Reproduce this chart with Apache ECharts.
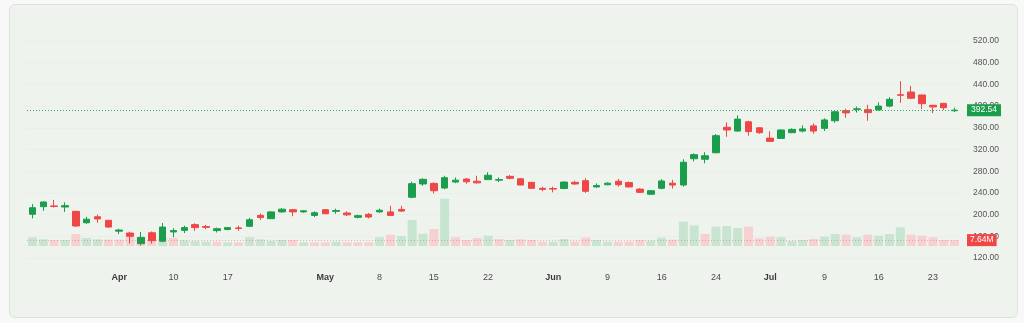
<!DOCTYPE html>
<html>
<head>
<meta charset="utf-8">
<script src="https://cdn.jsdelivr.net/npm/echarts@6/dist/echarts.min.js"></script>
<style>
html,body{margin:0;padding:0;background:#f7f8f7;width:1024px;height:323px;overflow:hidden}
#card{position:absolute;left:9px;top:4px;width:1007px;height:312px;border:1px solid #dde2dc;border-radius:6px;background:#eff3ee}
#chart{position:absolute;left:0;top:0;width:1024px;height:323px}
</style>
</head>
<body>
<div id="card"></div>
<div id="chart"></div>
<script>
// OHLC per session: [open, close, low, high]
const ohlc = [
  [200.6,212.7,193,219.5],[214.6,223.2,207,224],[216,215,213,227],[214,216.5,205,222.7],
  [206,179,177,207],[185,191.5,183,196],[196,192,185,200],[189.5,177,176,190],
  [169.5,171.5,164,174],[166,160,147,168.5],[146.5,158,143,168],[166.5,152,146.5,169],
  [151,177,149,184.5],[168,170.5,158,175],[171,176,166,179.5],[181.5,176,170,184],
  [178,176.5,173,181],[170.5,174,167,176],[172.5,176,171,177],[175.5,174.5,170,179.5],
  [178.5,190.5,177,194],[198.5,194.5,190,202],[192.5,205,192,206],[205,210,203.5,212],
  [209,205,197,210.5],[205,207,203.5,208],[198.5,203.5,195.5,206],[209,201.6,201,210],
  [206,207.5,201.5,211],[203,199.5,197.5,206],[195,198,193,200],[200.5,195.5,193,203],
  [205,208,203.5,211],[205,198.5,198,216],[209.5,206.5,205,216],[232,257,230,260.5],
  [256.5,265,253,267],[257.5,244,239,259.5],[249,268,247,271.5],[260,263.5,258,268.5],
  [265.5,260.5,257,267.5],[261.5,258.5,257.5,271.5],[264.5,272.5,264,278],[263.5,264.5,260,268.5],
  [270.5,267,265,273],[266,254.5,254,267],[259.5,248.5,247.5,260],[248.5,246.5,243,251.5],
  [248,247,241,251.5],[248,260,247,261],[259.5,256.5,254.5,262.5],[262.5,243,240,267],
  [251,253.5,249.5,257.5],[255,258,254,259.5],[261.5,255,251.5,265.5],[259,251,250,261],
  [247,241,240,248.5],[237.5,244,236,245],[248.5,262,246.5,265.5],[258,254.5,248,264],
  [254.5,296.5,251.5,302],[303,310.5,298,313],[302,308.5,294.5,315],[314,345.5,313,348.5],
  [361,356,343.5,370],[354,376,353,383],[371,353,345.5,373],[360,351,349,361],
  [341,335,335,353.5],[340.5,356,339.5,357],[351,357,350,359],[354,358,351.5,364.5],
  [363.5,354,349,368],[359,374.5,354,377.5],[373,389.5,369.5,391.5],[391.5,387.5,378.5,395],
  [394,395,388,399],[393.5,388,373,402.5],[393,400,391.5,407],[400,412.5,398,416.5],
  [421,420,406,446],[426,414.5,413,437],[420.5,404.5,394.5,421],[401.5,398.5,387,402],
  [405,397,393,406],[391.5,392.54,389,397]
];
// volume in millions
const volume = [
  11.3,8.7,7.8,7.8,15.6,10.4,8.7,8.2,8.2,12.1,11.3,9.1,10.4,10.4,7.4,6.5,5.6,5.6,4.8,4.8,
  11.3,8.7,6.5,7.8,7.8,4.8,4.8,4.8,5.6,4.8,4.8,4.8,11.3,14.7,13,33.8,16,22.1,61.5,11.3,
  7.8,10.4,13.4,9.1,7.8,8.7,7.8,5.6,5.6,9.1,5.6,10.8,7.8,5.6,5.6,5.6,7.8,6.9,10.8,8.2,
  31.6,26.9,15.6,25.1,26,23.4,25.1,10,12.1,11.3,6.5,7.8,9.1,12.1,15.6,14.7,11.3,14.7,13.4,15.6,
  24.3,14.7,13.4,11.3,7.8,7.64
];
const tickLabels = {8:'Apr',13:'10',18:'17',27:'May',32:'8',37:'15',42:'22',48:'Jun',53:'9',58:'16',63:'24',68:'Jul',73:'9',78:'16',83:'23'};
const monthLabels = ['Apr','May','Jun','Jul'];
const lastPrice = 392.54;
const lastVolume = 7.64;

const UP = '#1b9e4b', DOWN = '#ef4646';
const VUP = '#c7e5d0', VDOWN = '#f5d1d1';
const categories = ohlc.map((d, i) => String(i));
const volData = volume.map((v, i) => {
  const up = i === 0 ? ohlc[i][1] >= ohlc[i][0] : ohlc[i][1] >= ohlc[i - 1][1];
  return { value: v, itemStyle: { color: up ? VUP : VDOWN } };
});

const chart = echarts.init(document.getElementById('chart'), null, { renderer: 'canvas' });
chart.setOption({
  animation: false,
  backgroundColor: 'transparent',
  textStyle: { fontFamily: 'Liberation Sans, Arial, sans-serif' },
  grid: { left: 27, right: 64, top: 41, bottom: 65 },
  xAxis: {
    type: 'category',
    data: categories,
    boundaryGap: true,
    axisLine: { show: false },
    axisTick: { show: false },
    splitLine: { show: false },
    axisLabel: {
      margin: 15,
      fontSize: 9,
      color: '#4a4a4a',
      interval: (idx) => tickLabels[idx] !== undefined,
      formatter: (val, idx) => {
        const t = tickLabels[idx];
        if (t === undefined) return '';
        return monthLabels.includes(t) ? '{m|' + t + '}' : t;
      },
      rich: { m: { fontWeight: 'bold', fontSize: 9, color: '#3a3a3a' } }
    }
  },
  yAxis: [
    {
      type: 'value', position: 'right', min: 120, max: 520, interval: 40, scale: false,
      axisLine: { show: false }, axisTick: { show: false },
      splitLine: { show: true, lineStyle: { color: '#eaeee9', width: 1 } },
      axisLabel: { margin: 13, fontSize: 8.5, color: '#555', formatter: v => v.toFixed(2) }
    },
    {
      type: 'value', min: -15.6, max: 266.6, show: false,
      splitLine: { show: false }
    }
  ],
  series: [
    {
      type: 'bar',
      yAxisIndex: 1,
      data: volData,
      barWidth: 9,
      z: 1,
      markLine: {
        silent: true, symbol: 'none',
        lineStyle: { type: [1, 2], color: 'rgba(239,70,70,0.4)', width: 1 },
        label: {
          show: true, position: 'end', distance: 7,
          formatter: lastVolume.toFixed(2) + 'M',
          backgroundColor: DOWN, color: '#fff', fontSize: 8.5, padding: [2, 3, 1, 3]
        },
        data: [{ yAxis: lastVolume }]
      }
    },
    {
      type: 'candlestick',
      data: ohlc.map(d => [d[0], d[1], d[2], d[3]]),
      barWidth: 7,
      z: 3,
      itemStyle: { color: UP, color0: DOWN, borderColor: UP, borderColor0: DOWN, borderWidth: 1 },
      markLine: {
        silent: true, symbol: 'none',
        lineStyle: { type: [1, 2], color: '#2fa85a', width: 1 },
        label: {
          show: true, position: 'end', distance: 7,
          formatter: lastPrice.toFixed(2),
          backgroundColor: UP, color: '#fff', fontSize: 8.5, padding: [2, 4, 1, 4]
        },
        data: [{ yAxis: lastPrice }]
      }
    }
  ]
});
</script>
</body>
</html>
